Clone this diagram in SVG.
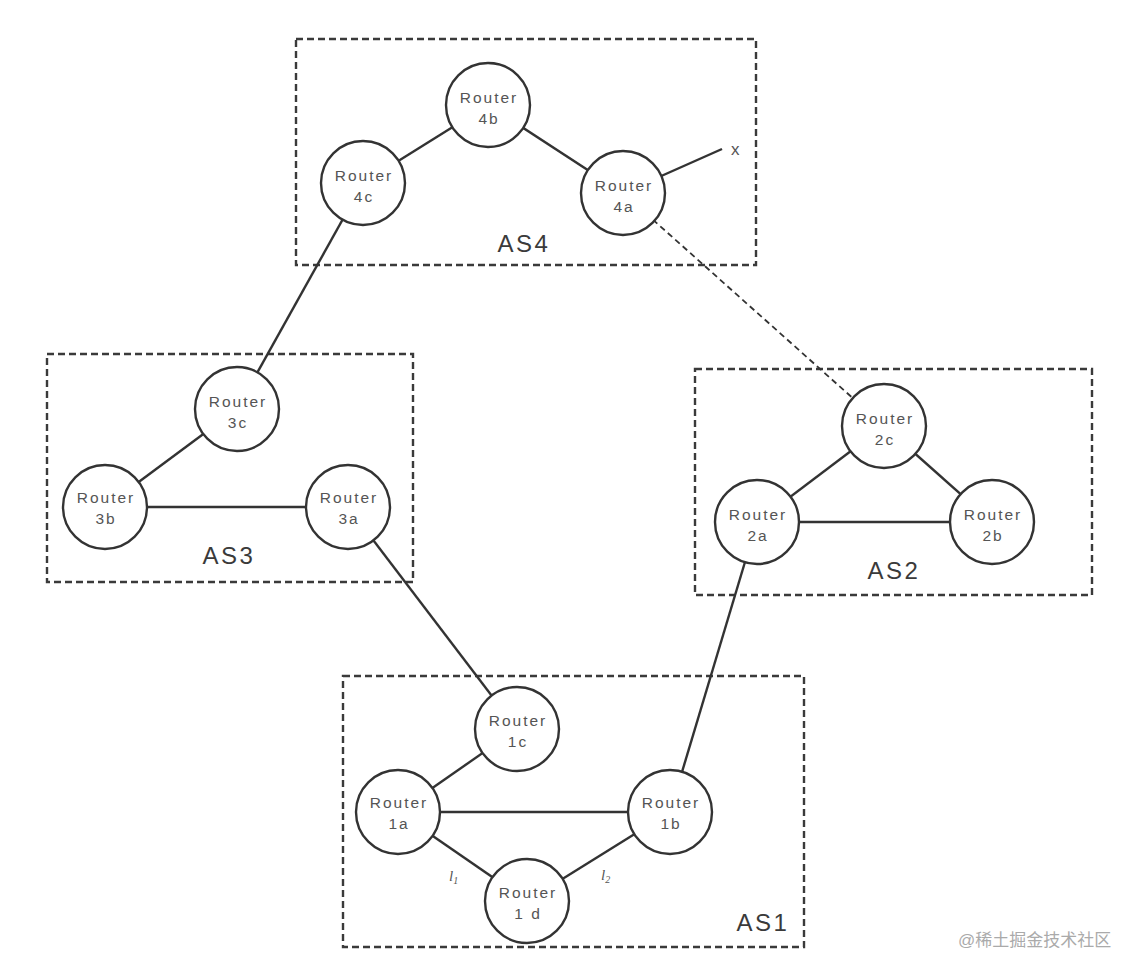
<svg xmlns="http://www.w3.org/2000/svg" width="1145" height="974" viewBox="0 0 1145 974">
<style>
.as{fill:none;stroke:#3a3a3a;stroke-width:2.4;stroke-dasharray:7,4}
.asl{font-family:"Liberation Sans",sans-serif;font-size:24px;letter-spacing:2.5px;fill:#3a3a3a;text-anchor:middle}
.r circle{fill:#fff;stroke:#333;stroke-width:2.4}
.r text{font-family:"Liberation Sans",sans-serif;font-size:15.5px;letter-spacing:2px;fill:#555;text-anchor:middle}
.c line{stroke:#333;stroke-width:2.4}
.c .d{stroke-dasharray:6,4;stroke-width:1.8}
.lbl{font-family:"Liberation Serif",serif;font-style:italic;font-size:15px;fill:#555}
</style>
<rect width="1145" height="974" fill="#fff"/>
<g id="as4"><rect class="as" x="296" y="39" width="460" height="226"/><text class="asl" x="524" y="252">AS4</text></g>
<g id="as3"><rect class="as" x="47" y="354" width="366" height="228"/><text class="asl" x="229" y="564">AS3</text></g>
<g id="as2"><rect class="as" x="695" y="369" width="397" height="226"/><text class="asl" x="894" y="579">AS2</text></g>
<g id="as1"><rect class="as" x="343" y="676" width="461" height="271"/><text class="asl" x="763" y="931">AS1</text></g>
<g id="connectors" class="c">
<line x1="363" y1="183" x2="488" y2="105"/>
<line x1="488" y1="105" x2="623" y2="193"/>
<line x1="623" y1="193" x2="722" y2="149"/>
<line class="d" x1="623" y1="193" x2="884" y2="426"/>
<line x1="363" y1="183" x2="237" y2="409"/>
<line x1="237" y1="409" x2="105" y2="507"/>
<line x1="105" y1="507" x2="348" y2="507"/>
<line x1="348" y1="507" x2="517" y2="729"/>
<line x1="884" y1="426" x2="757" y2="522"/>
<line x1="884" y1="426" x2="992" y2="522"/>
<line x1="757" y1="522" x2="992" y2="522"/>
<line x1="757" y1="522" x2="670" y2="812"/>
<line x1="517" y1="729" x2="398" y2="812"/>
<line x1="398" y1="812" x2="670" y2="812"/>
<line x1="398" y1="812" x2="527" y2="901"/>
<line x1="527" y1="901" x2="670" y2="812"/>
</g>
<text x="731" y="155" font-family="'Liberation Sans',sans-serif" font-size="17" fill="#555">x</text>
<text class="lbl" x="449" y="881">l<tspan font-size="10" dy="3">1</tspan></text>
<text class="lbl" x="601" y="880">l<tspan font-size="10" dy="3">2</tspan></text>
<g id="r4b" class="r"><circle cx="488" cy="105" r="42"/><text x="489" y="103">Router</text><text x="489" y="124">4b</text></g>
<g id="r4c" class="r"><circle cx="363" cy="183" r="42"/><text x="364" y="181">Router</text><text x="364" y="202">4c</text></g>
<g id="r4a" class="r"><circle cx="623" cy="193" r="42"/><text x="624" y="191">Router</text><text x="624" y="212">4a</text></g>
<g id="r3c" class="r"><circle cx="237" cy="409" r="42"/><text x="238" y="407">Router</text><text x="238" y="428">3c</text></g>
<g id="r3b" class="r"><circle cx="105" cy="507" r="42"/><text x="106" y="503">Router</text><text x="106" y="524">3b</text></g>
<g id="r3a" class="r"><circle cx="348" cy="507" r="42"/><text x="349" y="503">Router</text><text x="349" y="524">3a</text></g>
<g id="r2c" class="r"><circle cx="884" cy="426" r="42"/><text x="885" y="424">Router</text><text x="885" y="445">2c</text></g>
<g id="r2a" class="r"><circle cx="757" cy="522" r="42"/><text x="758" y="520">Router</text><text x="758" y="541">2a</text></g>
<g id="r2b" class="r"><circle cx="992" cy="522" r="42"/><text x="993" y="520">Router</text><text x="993" y="541">2b</text></g>
<g id="r1c" class="r"><circle cx="517" cy="729" r="42"/><text x="518" y="726">Router</text><text x="518" y="747">1c</text></g>
<g id="r1a" class="r"><circle cx="398" cy="812" r="42"/><text x="399" y="808">Router</text><text x="399" y="829">1a</text></g>
<g id="r1b" class="r"><circle cx="670" cy="812" r="42"/><text x="671" y="808">Router</text><text x="671" y="829">1b</text></g>
<g id="r1d" class="r"><circle cx="527" cy="901" r="42"/><text x="528" y="898">Router</text><text x="528" y="919">1 d</text></g>
<text x="958" y="946" font-family="'Liberation Sans','Noto Sans CJK SC',sans-serif" font-size="17" fill="#aaa">@稀土掘金技术社区</text>
</svg>
